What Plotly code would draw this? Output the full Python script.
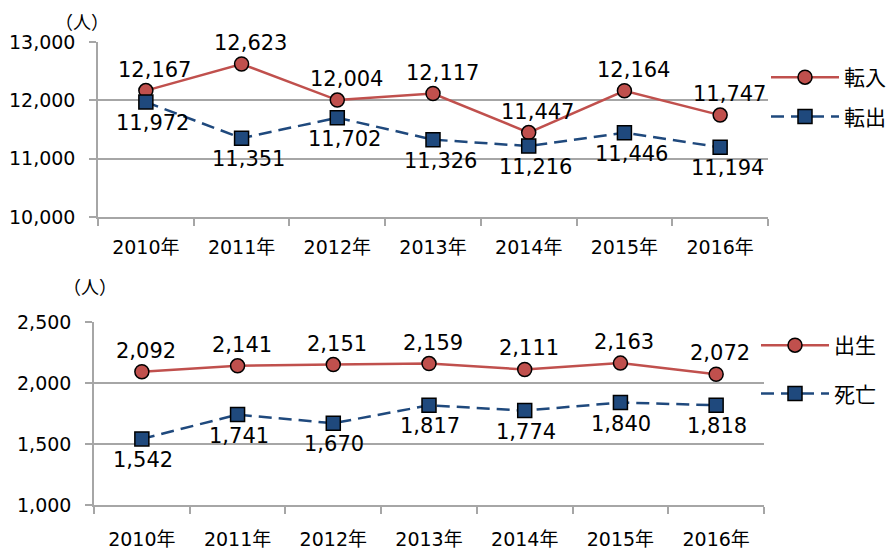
import plotly.graph_objects as go

years = ["2010年", "2011年", "2012年", "2013年", "2014年", "2015年", "2016年"]
tennyu = [12167, 12623, 12004, 12117, 11447, 12164, 11747]
tenshutsu = [11972, 11351, 11702, 11326, 11216, 11446, 11194]
births = [2092, 2141, 2151, 2159, 2111, 2163, 2072]
deaths = [1542, 1741, 1670, 1817, 1774, 1840, 1818]

RED = "#C0504D"
BLUE = "#1F497D"
GRID = "#A6A6A6"
FONT = "DejaVu Sans, Noto Sans CJK JP"
W, H = 896, 552


def series(x, y, name, color, symbol, dash, xa, ya, leg, grp):
    return go.Scatter(
        x=x, y=y, name=name, mode="lines+markers", cliponaxis=False,
        line=dict(color=color, width=2.5, dash=dash),
        marker=dict(symbol=symbol, size=14, color=color,
                    line=dict(color="black", width=1.5)),
        xaxis=xa, yaxis=ya, legend=leg, legendgroup=grp, hoverinfo="skip",
    )


def labels(x, y, xa, ya, above, xshift):
    out = []
    for cx, cy in zip(x, y):
        out.append(dict(
            x=cx, y=cy, xref=xa, yref=ya, text=f"{cy:,}", showarrow=False,
            xanchor="center", yanchor="bottom" if above else "top",
            yshift=7 if above else -7, xshift=xshift,
            font=dict(size=21, color="black", family=FONT),
        ))
    return out


fig = go.Figure()
fig.add_trace(series(years, tennyu, "転入", RED, "circle", "solid", "x", "y", "legend", "a"))
fig.add_trace(series(years, tenshutsu, "転出", BLUE, "square", "13px,7px", "x", "y", "legend", "b"))
fig.add_trace(series(years, births, "出生", RED, "circle", "solid", "x2", "y2", "legend2", "c"))
fig.add_trace(series(years, deaths, "死亡", BLUE, "square", "13px,7px", "x2", "y2", "legend2", "d"))

xcommon = dict(type="category", range=[-0.5, 6.5], tickson="boundaries", ticks="outside",
               ticklen=7, tickcolor=GRID, tickwidth=1.5, showline=True, linecolor=GRID,
               linewidth=1.5, showgrid=False, tickfont=dict(size=19, color="black", family=FONT))
ycommon = dict(showgrid=True, gridcolor=GRID, gridwidth=1.5, showline=True, linecolor=GRID,
               linewidth=1.5, ticks="outside", ticklen=7, tickcolor=GRID, tickwidth=1.5,
               tickformat=",", zeroline=False,
               tickfont=dict(size=19, color="black", family=FONT), ticklabelstandoff=10)

legcommon = dict(font=dict(size=21, color="black", family=FONT), itemwidth=68,
                 xanchor="left", yanchor="top", bgcolor="rgba(0,0,0,0)", itemsizing="trace")

annots = []
annots += labels(years, tennyu, "x", "y", True, 9)
annots += labels(years, tenshutsu, "x", "y", False, 7)
annots += labels(years, births, "x2", "y2", True, 4)
annots += labels(years, deaths, "x2", "y2", False, 1)
annots += [
    dict(text="（人）", x=82 / W, y=1 - 21 / H, xref="paper", yref="paper", showarrow=False,
         xanchor="center", yanchor="middle",
         font=dict(size=18, color="black", family="Noto Sans CJK JP")),
    dict(text="（人）", x=90 / W, y=1 - 286 / H, xref="paper", yref="paper", showarrow=False,
         xanchor="center", yanchor="middle",
         font=dict(size=18, color="black", family="Noto Sans CJK JP")),
]

fig.update_layout(
    width=W, height=H, margin=dict(l=0, r=0, t=0, b=0, autoexpand=False),
    paper_bgcolor="white", plot_bgcolor="white",
    showlegend=True, hovermode=False,
    xaxis=dict(xcommon, domain=[98 / W, 768 / W], anchor="y", ticklabelstandoff=12),
    yaxis=dict(ycommon, domain=[1 - 217 / H, 1 - 42 / H], range=[10000, 13000], dtick=1000, anchor="x"),
    xaxis2=dict(xcommon, domain=[94 / W, 764 / W], anchor="y2", ticklabelstandoff=16),
    yaxis2=dict(ycommon, domain=[1 - 505 / H, 1 - 322 / H], range=[1000, 2500], dtick=500, anchor="x2"),
    legend=dict(legcommon, x=766 / W, y=1 - 57 / H, tracegroupgap=9),
    legend2=dict(legcommon, x=756 / W, y=1 - 325 / H, tracegroupgap=18),
    annotations=annots,
)

fig.write_html(
    "out.html",
    config={"displayModeBar": False},
    post_script="document.body.style.margin='0';document.body.style.padding='0';document.body.style.overflow='hidden';",
)
